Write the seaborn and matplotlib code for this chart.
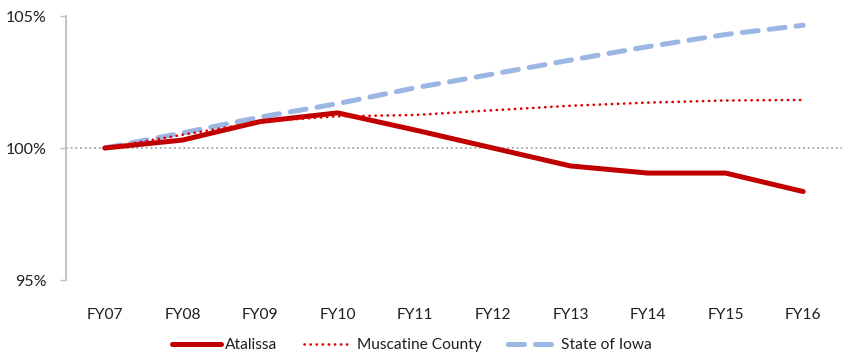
import matplotlib
matplotlib.use("Agg")
import matplotlib.pyplot as plt
import seaborn as sns
import pandas as pd

years = ["FY07", "FY08", "FY09", "FY10", "FY11", "FY12", "FY13", "FY14", "FY15", "FY16"]
atalissa = [100.0, 100.3, 101.0, 101.33, 100.68, 100.0, 99.32, 99.05, 99.05, 98.35]
muscatine = [100.0, 100.5, 101.0, 101.2, 101.25, 101.43, 101.6, 101.72, 101.8, 101.82]
iowa = [100.0, 100.57, 101.17, 101.68, 102.28, 102.8, 103.33, 103.84, 104.3, 104.65]
yticks = [95, 100, 105]
ytick_labels = ["95%", "100%", "105%"]

sns.set_theme(style="white")
plt.rcParams["font.family"] = ["Lato", "DejaVu Sans"]

df = pd.DataFrame({"year": years, "Atalissa": atalissa,
                   "Muscatine County": muscatine, "State of Iowa": iowa})

fig = plt.figure(figsize=(8.45, 3.56), dpi=100)
ax = fig.add_axes([66 / 845, 1 - 280 / 356, (842 - 66) / 845, (280 - 16) / 356])

# baseline at 100%
ax.axhline(100, color="#A6A6A6", lw=1.3, ls=(0, (1, 1.6)), zorder=1)

sns.lineplot(data=df, x="year", y="Atalissa", ax=ax, color="#C00000",
             lw=3.6, solid_capstyle="round", label="Atalissa", zorder=3, sort=False)
sns.lineplot(data=df, x="year", y="Muscatine County", ax=ax, color="#E00000",
             lw=1.9, ls=(0, (0.1, 2.2)), dash_capstyle="round",
             label="Muscatine County", zorder=4, sort=False)
sns.lineplot(data=df, x="year", y="State of Iowa", ax=ax, color="#9CB6E4",
             lw=3.6, ls=(0, (3.2, 2.2)), dash_capstyle="round",
             label="State of Iowa", zorder=2, sort=False)

ax.set_xlim(-0.5, len(years) - 0.5)
ax.set_ylim(95, 105)
ax.set_yticks(yticks)
ax.set_yticklabels(ytick_labels)
ax.set_xlabel("")
ax.set_ylabel("")

for s in ["top", "right", "bottom"]:
    ax.spines[s].set_visible(False)
ax.spines["left"].set_color("#BFBFBF")
ax.spines["left"].set_linewidth(1.3)

ax.tick_params(axis="y", left=True, length=4, width=1, color="#BFBFBF",
               labelsize=11.5, labelcolor="#1F1F1F", pad=10)
ax.tick_params(axis="x", bottom=False, labelsize=11.2, labelcolor="#1F1F1F", pad=14)

handles, labels = ax.get_legend_handles_labels()
ax.get_legend().remove()
fig.legend(handles, labels, loc="center", bbox_to_anchor=(412 / 845, 1 - 345 / 356),
           ncol=3, frameon=False, fontsize=11.2, handlelength=3.1, handletextpad=0.3,
           columnspacing=1.7, labelcolor="#1F1F1F")

fig.savefig("out.png", dpi=100)
